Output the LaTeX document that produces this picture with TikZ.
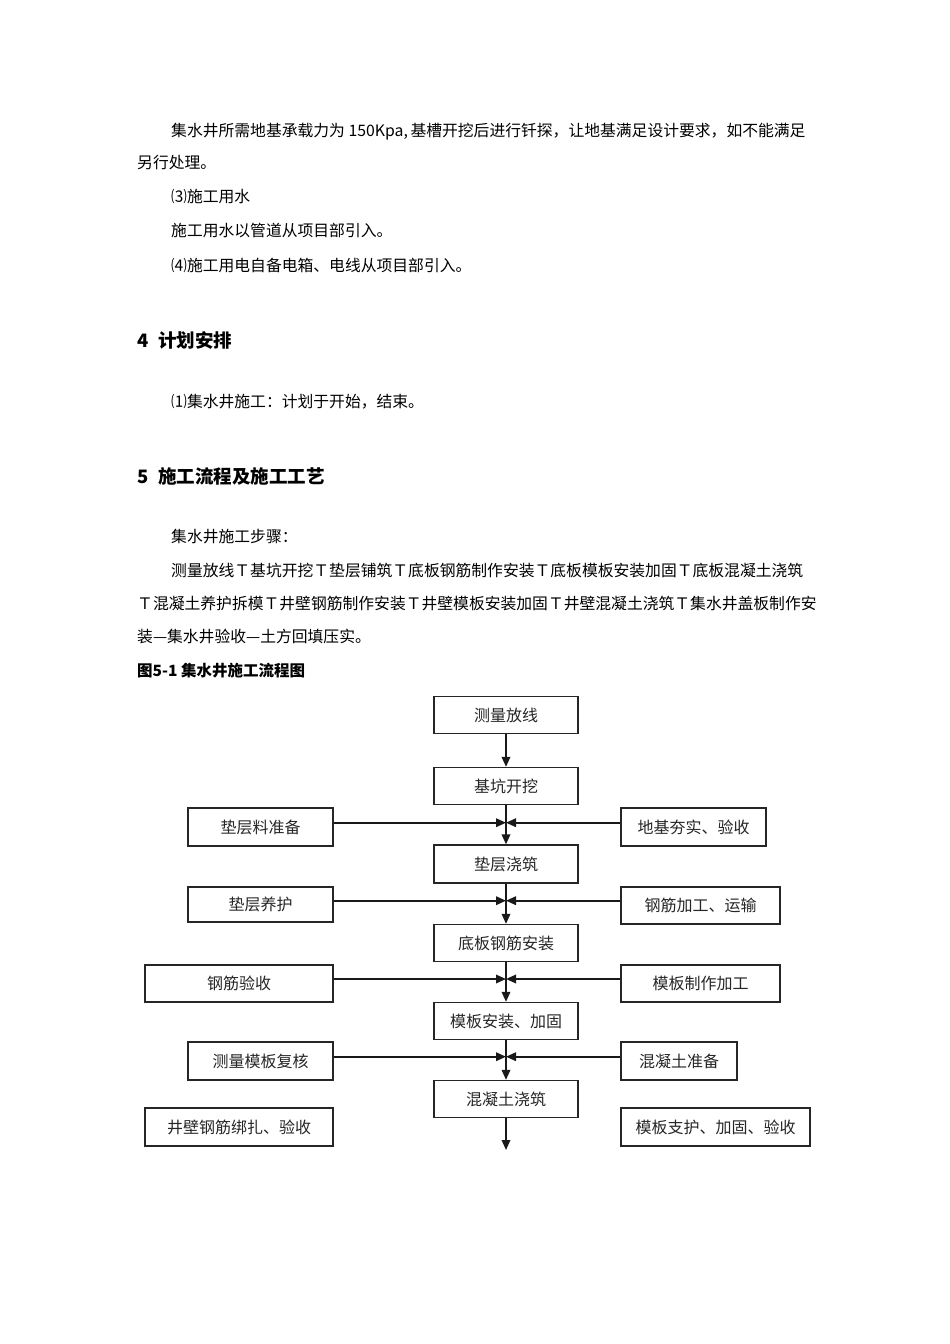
\documentclass[tikz,border=0pt]{standalone}
\usepackage{fontspec}
\setmainfont{Noto Sans CJK SC}
\usetikzlibrary{arrows.meta}
\begin{document}
\begin{tikzpicture}[x=1pt,y=-1pt,
  body/.style={anchor=west, inner sep=0pt, font=\fontsize{15.8}{18}\selectfont},
  head/.style={anchor=west, inner sep=0pt, font=\fontsize{18.5}{20}\selectfont\bfseries},
  figcaption/.style={anchor=west, inner sep=0pt, font=\fontsize{15.5}{18}\selectfont\bfseries},
  mainbox/.style={draw=black!85, line width=1.3pt, minimum width=144pt, minimum height=37pt, inner sep=0pt, font=\fontsize{16}{18}\selectfont, text=black!85},
  sidebox/.style={mainbox, line width=1.7pt},
  arr/.style={line width=1.8pt, draw=black!90, -{Triangle[length=10pt,width=8.5pt]}}
]
\useasboundingbox[fill=white] (0,0) rectangle (950,1344);

% ---- text ----
\node[body] (t1) at (171,132) {集水井所需地基承载力为 150Kpa,\,基槽开挖后进行钎探，让地基满足设计要求，如不能满足};
\node[body] (t2) at (137,163) {另行处理。};
\node[body] (t3) at (171,197) {⑶施工用水};
\node[body] (t4) at (171,231) {施工用水以管道从项目部引入。};
\node[body] (t5) at (171,265) {⑷施工用电自备电箱、电线从项目部引入。};
\node[head] (h4) at (137,340) {\makebox[21pt][l]{4}计划安排};
\node[body] (t6) at (171,402) {⑴集水井施工：计划于开始，结束。};
\node[head] (h5) at (137,476) {\makebox[21pt][l]{5}施工流程及施工工艺};
\node[body] (t7) at (171,537) {集水井施工步骤：};
\node[body] (t8) at (171,570) {测量放线Ｔ基坑开挖Ｔ垫层铺筑Ｔ底板钢筋制作安装Ｔ底板模板安装加固Ｔ底板混凝土浇筑};
\node[body] (t9) at (137,604) {Ｔ混凝土养护拆模Ｔ井壁钢筋制作安装Ｔ井壁模板安装加固Ｔ井壁混凝土浇筑Ｔ集水井盖板制作安};
\node[body] (t10) at (137,637) {装—集水井验收—土方回填压实。};
\node[figcaption] (cp) at (137,671) {图5-1 集水井施工流程图};

% ---- flowchart: main column ----
\node[mainbox] (a1) at (506,715) {测量放线};
\node[mainbox] (a2) at (506,786) {基坑开挖};
\node[mainbox, minimum height=38pt] (a3) at (506,864) {垫层浇筑};
\node[mainbox] (a4) at (506,943) {底板钢筋安装};
\node[mainbox] (a5) at (506,1021) {模板安装、加固};
\node[mainbox] (a6) at (506,1099) {混凝土浇筑};

% ---- left column ----
\node[sidebox, minimum width=145pt, minimum height=38pt] (l1) at (260.5,827) {垫层料准备};
\node[sidebox, minimum width=145pt, minimum height=35pt] (l2) at (260.5,904.5) {垫层养护};
\node[sidebox, minimum width=188pt] (l3) at (239,983.5) {钢筋验收};
\node[sidebox, minimum width=145pt, minimum height=38pt] (l4) at (260.5,1061) {测量模板复核};
\node[sidebox, minimum width=188pt, minimum height=38pt] (l5) at (239,1127) {井壁钢筋绑扎、验收};

% ---- right column ----
\node[sidebox, minimum width=145pt, minimum height=38pt] (r1) at (693.5,827) {地基夯实、验收};
\node[sidebox, minimum width=159pt] (r2) at (700.5,905.5) {钢筋加工、运输};
\node[sidebox, minimum width=159pt] (r3) at (700.5,983.5) {模板制作加工};
\node[sidebox, minimum width=116pt, minimum height=38pt] (r4) at (679,1061) {混凝土准备};
\node[sidebox, minimum width=189pt, minimum height=38pt] (r5) at (715.5,1127) {模板支护、加固、验收};

% ---- junction points ----
\coordinate (j1) at (506,822.7);
\coordinate (j2) at (506,900.7);
\coordinate (j3) at (506,979);
\coordinate (j4) at (506,1056.7);
\coordinate (endp) at (506,1150);

% ---- connectors ----
\draw[arr] (a1.south) -- (a2.north);
\draw[arr] (a2.south) -- (a3.north);
\draw[arr] (a3.south) -- (a4.north);
\draw[arr] (a4.south) -- (a5.north);
\draw[arr] (a5.south) -- (a6.north);
\draw[arr] (a6.south) -- (endp);

\draw[arr] (l1.east |- j1) -- (j1);
\draw[arr] (r1.west |- j1) -- (j1);
\draw[arr] (l2.east |- j2) -- (j2);
\draw[arr] (r2.west |- j2) -- (j2);
\draw[arr] (l3.east |- j3) -- (j3);
\draw[arr] (r3.west |- j3) -- (j3);
\draw[arr] (l4.east |- j4) -- (j4);
\draw[arr] (r4.west |- j4) -- (j4);
\end{tikzpicture}
\end{document}
